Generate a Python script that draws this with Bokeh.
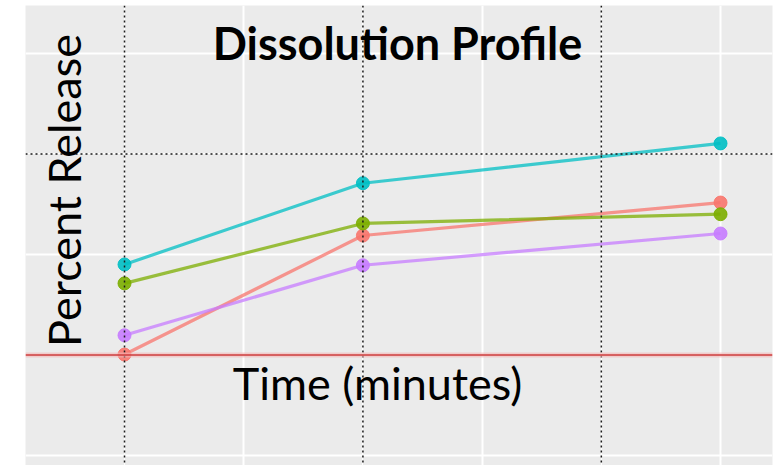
import numpy as np
from bokeh.plotting import figure
from bokeh.models import Span, Label, Grid, FixedTicker, Range1d, ColumnDataSource
from bokeh.embed import file_html
from bokeh.resources import INLINE

# ---- data ----
times = [5, 15, 30]
series_names = ["Batch 1", "Batch 2", "Batch 3", "Batch 4"]
series_colors = ["#F8766D", "#7CAE00", "#00BFC4", "#C77CFF"]
red_vals = [25.1, 54.7, 62.9]
green_vals = [42.8, 57.7, 60.0]
cyan_vals = [47.5, 67.7, 77.6]
purple_vals = [29.9, 47.3, 55.2]

x_major = [10, 20, 30]
x_minor = [5, 15, 25]
y_major = [0, 50, 100]
y_minor = [25, 75]
dotted_x = [5, 15, 25]
dotted_y = [75]
reference_level = 25

title_text = "Dissolution Profile"
xlabel_text = "Time (minutes)"
ylabel_text = "Percent Release"

FONT = "Lato"
FSIZE = "45px"

p = figure(width=777, height=465, output_backend="svg", toolbar_location=None,
           x_axis_location=None, y_axis_location=None,
           x_range=Range1d(0.847, 32.18), y_range=Range1d(-2.49, 111.9),
           min_border_left=25, min_border_right=5, min_border_top=5, min_border_bottom=0)
p.background_fill_color = "#ebebeb"
p.border_fill_color = "white"
p.outline_line_color = None
p.xgrid.visible = False
p.ygrid.visible = False

p.add_layout(Grid(dimension=0, ticker=FixedTicker(ticks=x_major, minor_ticks=x_minor),
                  grid_line_color="white", grid_line_width=2,
                  minor_grid_line_color="white", minor_grid_line_width=1))
p.add_layout(Grid(dimension=1, ticker=FixedTicker(ticks=y_major, minor_ticks=y_minor),
                  grid_line_color="white", grid_line_width=2,
                  minor_grid_line_color="white", minor_grid_line_width=1))

for xv in dotted_x:
    p.add_layout(Span(location=xv, dimension="height", line_color="#1a1a1a",
                      line_width=1.5, line_dash="2 3"))
for yv in dotted_y:
    p.add_layout(Span(location=yv, dimension="width", line_color="#1a1a1a",
                      line_width=1.5, line_dash="2 3"))

p.add_layout(Span(location=reference_level, dimension="width", line_color="#f4b8b8",
                  line_width=5, line_alpha=0.6))
p.add_layout(Span(location=reference_level, dimension="width", line_color="#cc3b3b",
                  line_width=1.5))

for name, vals, col in zip(series_names, [red_vals, green_vals, cyan_vals, purple_vals], series_colors):
    src = ColumnDataSource(dict(t=times, v=vals))
    p.line("t", "v", source=src, line_color=col, line_width=3.2, line_alpha=0.75)
    p.scatter("t", "v", source=src, size=13, fill_color=col, line_color=col, fill_alpha=0.9, line_alpha=0.9)

p.add_layout(Label(x=16.45, y=102.6, text=title_text, text_font=FONT, text_font_style="bold",
                   text_font_size=FSIZE, text_align="center", text_baseline="alphabetic",
                   text_color="black"))
p.add_layout(Label(x=15.61, y=18.0, text=xlabel_text, text_font=FONT,
                   text_font_size=FSIZE, text_align="center", text_baseline="alphabetic",
                   text_color="black"))
p.add_layout(Label(x=2.45, y=65.9, text=ylabel_text, text_font=FONT, angle=np.pi / 2,
                   text_font_size=FSIZE, text_align="center", text_baseline="alphabetic",
                   text_color="black"))

open("out.html", "w").write(file_html(p, INLINE))
